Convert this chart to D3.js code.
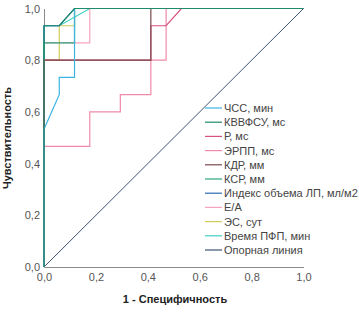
<!DOCTYPE html>
<html><head><meta charset="utf-8">
<script src="https://cdn.jsdelivr.net/npm/d3@7"></script>
<style>body{margin:0;background:#fff}svg{display:block}</style>
</head><body><div id="chart"></div>
<script>
// Data: FPR in units of 1/17 (17 negatives), TPR in units of 1/15 (15 positives)
const seriesNames = ["ЧСС, мин","КВВФСУ, мс","Р, мс","ЭРПП, мс","КДР, мм","КСР, мм","Индекс объема ЛП, мл/м2","Е/А","ЭС, сут","Время ПФП, мин"];
const seriesColors = ["#3db4e2","#1d8b6c","#d8507e","#f08aa8","#7b4a4c","#2ba57c","#2f6cb3","#f6a6bc","#cfcc5a","#40d0c3"];
const fprPoints = [
  [0,0,1,1,2,2,17],
  [0,0,1,2,17],
  [0,0,7,7,8,9,17],
  [0,0,3,3,5,5,7,7,8,8,17],
  [0,0,7,7,17],
  [0,0,2,2,17],
  [0,0,1,2,17],
  [0,0,3,3,17],
  [0,0,1,1,2,2,17],
  [0,0,1,3,17]
];
const tprPoints = [
  [0,8,10,11,11,15,15],
  [0,14,14,15,15],
  [0,12,12,14,14,15,15],
  [0,7,7,9,9,10,10,12,12,15,15],
  [0,12,12,15,15],
  [0,13,13,15,15],
  [0,14,14,15,15],
  [0,13,13,15,15],
  [0,12,12,14,14,15,15],
  [0,14,14,15,15]
];
const nNeg = 17, nPos = 15;
const refName = "Опорная линия", refColor = "#3e5474";
const tickValues = [0,0.2,0.4,0.6,0.8,1.0];
const drawOrder = [9,8,7,6,5,3,2,4,0,1];

const W = 359, H = 312;
const svg = d3.select("#chart").append("svg").attr("width", W).attr("height", H);
const x = d3.scaleLinear().domain([0,1]).range([44,303.5]);
const y = d3.scaleLinear().domain([0,1]).range([267,8.5]);
const fmt = d => d3.format(".1f")(d).replace(".", ",");
const font = "Liberation Sans, Arial, sans-serif";

// axes
const xa = svg.append("g").attr("transform","translate(0,267)")
  .call(d3.axisBottom(x).tickValues(tickValues).tickFormat(fmt).tickSize(0).tickPadding(6));
const ya = svg.append("g").attr("transform","translate(44,0)")
  .call(d3.axisLeft(y).tickValues(tickValues).tickFormat(fmt).tickSize(0).tickPadding(4));
[xa,ya].forEach(a=>{
  a.select(".domain").attr("stroke","#8a8a8a");
  a.selectAll("text").attr("font-family",font).attr("font-size","11px").attr("fill","#555");
});

// reference line
const line = d3.line().x(d=>x(d[0])).y(d=>y(d[1]));
svg.append("path").datum([[0,0],[1,1]]).attr("d",line)
  .attr("fill","none").attr("stroke",refColor).attr("stroke-width",1);

// ROC curves
drawOrder.forEach(i=>{
  const pts = fprPoints[i].map((f,k)=>[f/nNeg, tprPoints[i][k]/nPos]);
  svg.append("path").datum(pts).attr("d",line)
    .attr("fill","none").attr("stroke",seriesColors[i]).attr("stroke-width",1.2);
});

// titles
svg.append("text").attr("x",175).attr("y",303).attr("text-anchor","middle")
  .attr("font-family",font).attr("font-size","11px").attr("font-weight","bold").attr("fill","#222")
  .text("1 - Специфичность");
svg.append("text").attr("transform","translate(11,138) rotate(-90)").attr("text-anchor","middle")
  .attr("font-family",font).attr("font-size","11px").attr("font-weight","bold").attr("fill","#222")
  .text("Чувствительность");

// legend
const legNames = seriesNames.concat([refName]);
const legColors = seriesColors.concat([refColor]);
const leg = svg.append("g");
legNames.forEach((n,i)=>{
  const yy = 108 + i*14.2;
  leg.append("line").attr("x1",205).attr("x2",222).attr("y1",yy).attr("y2",yy)
    .attr("stroke",legColors[i]).attr("stroke-width",1.2);
  leg.append("text").attr("x",224).attr("y",yy+4).attr("font-family",font)
    .attr("font-size","11px").attr("fill","#444").text(n);
});
</script></body></html>
